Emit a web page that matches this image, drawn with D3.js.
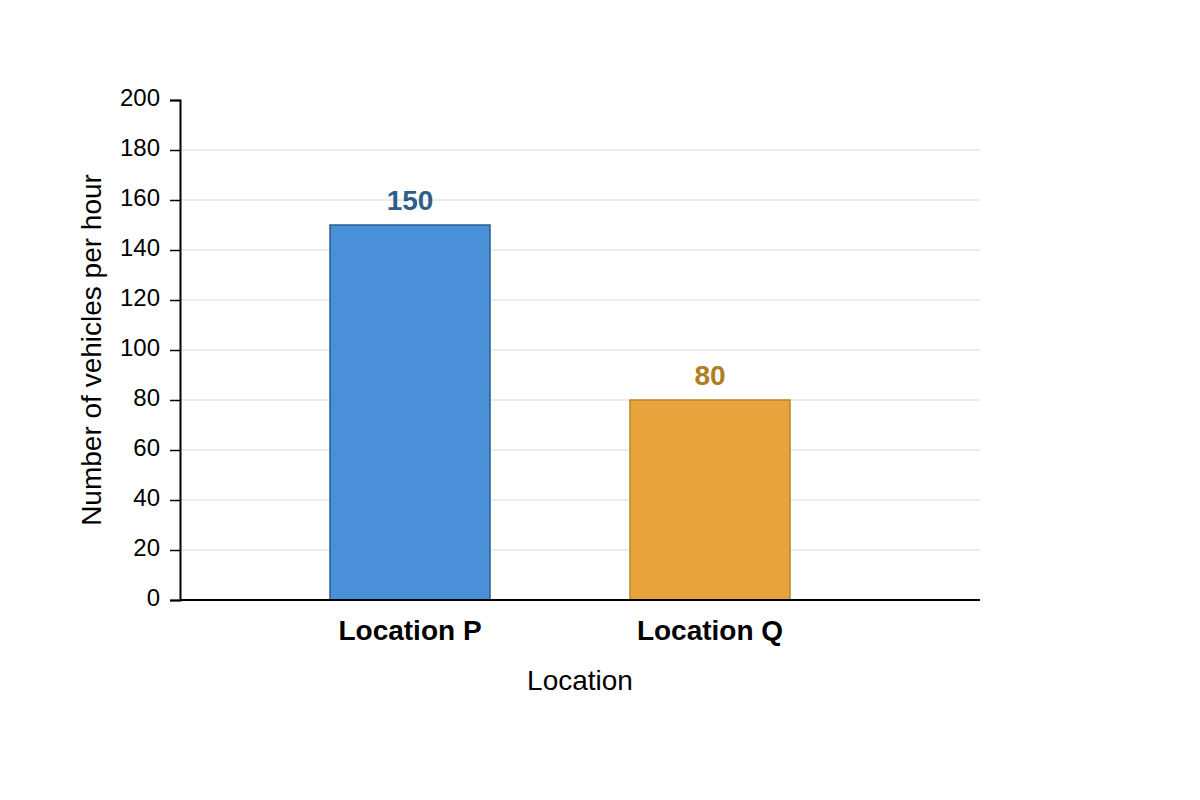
<!DOCTYPE html>
<html>
<head>
<meta charset="utf-8">
<script src="https://cdn.jsdelivr.net/npm/d3@7"></script>
<style>
  body { margin: 0; background: #fff; }
  svg { font-family: "Liberation Sans", Arial, sans-serif; }
</style>
</head>
<body>
<svg id="chart" width="1200" height="800"></svg>
<script>
const categories = ['Location P', 'Location Q']
const vehicles = [150, 80]
const yTicks = [0, 20, 40, 60, 80, 100, 120, 140, 160, 180, 200]
const barFill = ['#4a90d9', '#e8a43c']
const barStroke = ['#2b5d8c', '#b8862b']
const labelFill = ['#2e5f8a', '#b07d22']

const svg = d3.select('#chart')
const plotLeft = 180, plotRight = 980, plotTop = 100, plotBottom = 600

// y scale
const y = d3.scaleLinear().domain([0, 200]).range([plotBottom, plotTop])

// x scale, bars at 330-490 and 630-790
const x = d3.scaleBand()
    .domain(categories)
    .range([260, 860])
    .paddingInner(7 / 15)
    .paddingOuter(7 / 30)

// gridlines (none at 0 or at the top)
svg.append('g')
    .selectAll('line')
    .data(yTicks.filter(d => d > 0 && d < 200))
    .join('line')
    .attr('x1', plotLeft)
    .attr('x2', plotRight)
    .attr('y1', d => y(d))
    .attr('y2', d => y(d))
    .attr('stroke', '#e6e6e6')
    .attr('stroke-width', 1.5)

// bars
svg.append('g')
    .selectAll('rect')
    .data(vehicles)
    .join('rect')
    .attr('x', (v, i) => x(categories[i]))
    .attr('y', v => y(v))
    .attr('width', x.bandwidth())
    .attr('height', v => plotBottom - y(v))
    .attr('fill', (v, i) => barFill[i])
    .attr('stroke', (v, i) => barStroke[i])
    .attr('stroke-width', 1.5)

// value labels
svg.append('g')
    .selectAll('text')
    .data(vehicles)
    .join('text')
    .attr('x', (v, i) => x(categories[i]) + x.bandwidth() / 2)
    .attr('y', v => y(v) - 15)
    .attr('text-anchor', 'middle')
    .attr('font-size', 28)
    .attr('font-weight', 'bold')
    .attr('fill', (v, i) => labelFill[i])
    .text(v => v)

// y axis
const yAxis = d3.axisLeft(y).tickValues(yTicks).tickSize(10).tickPadding(10)
const gy = svg.append('g')
    .attr('transform', `translate(${plotLeft},0)`)
    .call(yAxis)
gy.select('.domain').attr('stroke', '#000').attr('stroke-width', 2)
gy.selectAll('.tick line').attr('stroke', '#000').attr('stroke-width', 1.5)
gy.selectAll('.tick text')
    .attr('font-size', 24)
    .attr('dy', '0.22em')
    .attr('font-family', '"Liberation Sans", Arial, sans-serif')
    .attr('fill', '#000')

// x axis baseline
svg.append('line')
    .attr('x1', plotLeft)
    .attr('x2', plotRight)
    .attr('y1', plotBottom)
    .attr('y2', plotBottom)
    .attr('stroke', '#000')
    .attr('stroke-width', 2)

// category labels
svg.append('g')
    .selectAll('text')
    .data(categories)
    .join('text')
    .attr('x', d => x(d) + x.bandwidth() / 2)
    .attr('y', 640)
    .attr('text-anchor', 'middle')
    .attr('font-size', 28)
    .attr('font-weight', 'bold')
    .attr('fill', '#000')
    .text(d => d)

// axis titles
svg.append('text')
    .attr('x', (plotLeft + plotRight) / 2)
    .attr('y', 690)
    .attr('text-anchor', 'middle')
    .attr('font-size', 28)
    .attr('fill', '#000')
    .text('Location')

svg.append('text')
    .attr('transform', `translate(101,${(plotTop + plotBottom) / 2}) rotate(-90)`)
    .attr('text-anchor', 'middle')
    .attr('font-size', 28)
    .attr('fill', '#000')
    .text('Number of vehicles per hour')
</script>
</body>
</html>
